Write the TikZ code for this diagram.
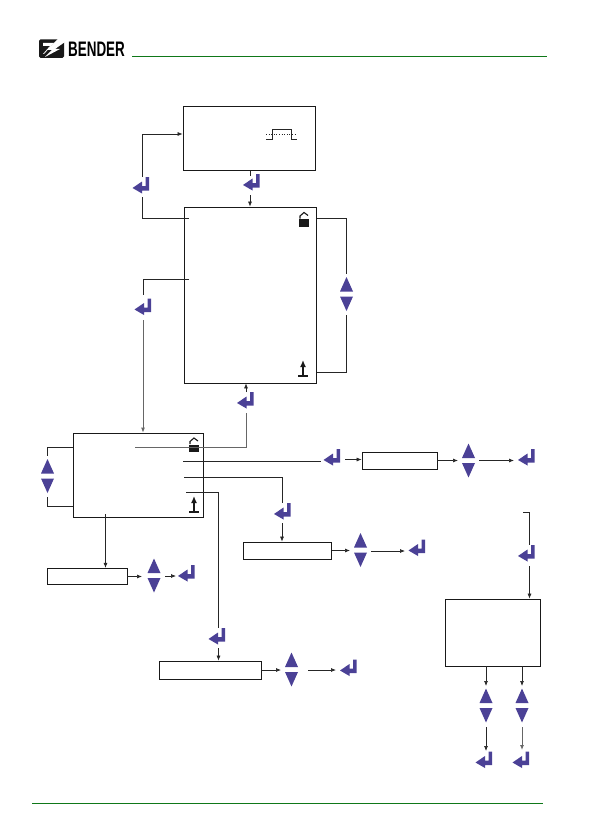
\documentclass[tikz,border=0pt]{standalone}
\usepackage{fontspec}
\setmainfont{Liberation Sans}
\usetikzlibrary{calc,arrows.meta}
\definecolor{keyblue}{RGB}{75,65,150}
\definecolor{rulegreen}{RGB}{15,120,25}
\tikzset{
  panel/.style={draw=black!90, line width=0.75pt, fill=white, inner sep=0pt},
  link/.style={draw=black!85, line width=0.7pt},
  greylink/.style={draw=black!60, line width=0.9pt},
  tip/.style={-{Latex[length=5pt,width=4pt]}},
  enterkey/.pic={
    \fill[keyblue] (-8.5,2.5) -- (1,-4) -- (1,0.5) -- (4.5,0.5) -- (4.5,-8.5) -- (8,-8.5) -- (8,5) -- (1,5) -- (1,8) -- cycle;
  },
  updownkey/.pic={
    \fill[keyblue] (-6.5,2.5) -- (6.5,2.5) -- (0,17) -- cycle;
    \fill[keyblue] (-6.5,-2.5) -- (6.5,-2.5) -- (0,-17) -- cycle;
  },
  lockicon/.pic={
    \fill[black!90] (-5,-0.5) rectangle (5,7);
    \draw[black!90, line width=1.1pt] (-4,-1) -- (-4,-3.5) -- (0,-7) -- (4,-4);
  },
  uparrowicon/.pic={
    \draw[black!90, line width=1.3pt] (-5,8) -- (5,8);
    \draw[black!90, line width=1.3pt, -{Latex[length=7pt,width=6pt]}] (0,8) -- (0,-8);
  },
}
\begin{document}
\begin{tikzpicture}[x=1pt, y=-1pt, line join=miter]
  \useasboundingbox (0,0) rectangle (594,840);
  % kopf und fuss
  \fill[black!90, rounded corners=1.5pt] (39,39.5) rectangle (64,58);
  \fill[white] (43,43) -- (54,43) -- (44,54) -- (43,54) -- (50,46) -- (43,46) -- cycle;
  \fill[white] (65,39) -- (58,39) -- (47,50) -- (52,50) -- (45,57) -- (60,49) -- (55,49) -- (65,42) -- cycle;
  \node[inner sep=0pt, anchor=west, xscale=0.64] (brand) at (68,49.5) {\fontsize{21}{21}\selectfont\bfseries BENDER};
  \coordinate (headL) at (132,56); \coordinate (headR) at (547,56);
  \coordinate (footL) at (32,803); \coordinate (footR) at (543,803);
  \draw[rulegreen, line width=0.9pt] (headL) -- (headR);
  \draw[rulegreen, line width=0.9pt] (footL) -- (footR);
  % anzeigen
  \node[panel, minimum width=132pt, minimum height=64.5pt] (info) at (249,138.5) {};
  \node[panel, minimum width=131.5pt, minimum height=176pt] (menu) at (250.5,295) {};
  \node[panel, minimum width=130.5pt, minimum height=84pt] (submenu) at (138.5,475) {};
  \node[panel, minimum width=80pt, minimum height=16.5pt] (fieldA) at (87,576.5) {};
  \node[panel, minimum width=88pt, minimum height=17pt] (fieldB) at (287.5,550.5) {};
  \node[panel, minimum width=75pt, minimum height=17pt] (fieldC) at (399.5,460.5) {};
  \node[panel, minimum width=102pt, minimum height=18pt] (fieldD) at (210,670) {};
  \node[panel, minimum width=95.5pt, minimum height=67pt] (result) at (492.75,632.5) {};
  % tasten
  \coordinate (kInfo) at (141,185.5);
  \coordinate (kMenu) at (251.5,182.5);
  \coordinate (kSub) at (143,307);
  \coordinate (kBack) at (245.5,400.5);
  \coordinate (kF) at (332,457.5);
  \coordinate (kFa) at (526.5,457.5);
  \coordinate (kE) at (282.5,511.5);
  \coordinate (kEa) at (417,548);
  \coordinate (kA) at (186.5,573.5);
  \coordinate (kG) at (217,636.5);
  \coordinate (kGa) at (348.5,668);
  \coordinate (kTop) at (526.5,553.5);
  \coordinate (kL) at (484,760);
  \coordinate (kR) at (521,760);
  \foreach \k in {kInfo,kMenu,kSub,kBack,kF,kFa,kE,kEa,kA,kG,kGa,kTop,kL,kR}
    \pic at (\k) {enterkey};
  \coordinate (uMenu) at (346.5,294);
  \coordinate (uSub) at (47.5,476);
  \coordinate (uA) at (154,575.5);
  \coordinate (uF) at (468.5,460.5);
  \coordinate (uE) at (360.5,550);
  \coordinate (uD) at (291.5,669.5);
  \coordinate (uL) at (486,705.5);
  \coordinate (uR) at (522,705.5);
  \foreach \u in {uMenu,uSub,uA,uF,uE,uD,uL,uR}
    \pic at (\u) {updownkey};
  % symbole
  \pic at (304,219.5) {lockicon};
  \pic at (194,445) {lockicon};
  \pic at (303,368) {uparrowicon};
  \pic at (194,504) {uparrowicon};
  \draw[black!85, line width=0.6pt] (266,139) -- (272,139) -- (272,129) -- (291,129) -- (291,139) -- (297,139);
  \draw[black!85, line width=0.6pt, dotted] (266,134) -- (297,134);
  % verbindungen oben
  \draw[link, tip] (142,177) |- (info.west |- 0,134);
  \draw[link] (142,197) |- (189,218);
  \draw[link] (info.south -| 250,0) -- (250,176);
  \draw[link, tip] (250,195) -- (menu.north -| 250,0);
  \draw[link] (menu.east |- 0,218) -| (uMenu |- 0,274);
  \draw[link] (menu.east |- 0,372) -| (uMenu |- 0,315);
  \draw[link] (189,279) -| (143,295);
  \draw[greylink, tip] (143,320) -- (submenu.north -| 143,0);
  \draw[link, tip] (246,392) -- (menu.south -| 246,0);
  \draw[greylink] (246,413) |- (135,447);
  % untermenue
  \draw[link] (submenu.west |- 0,447) -| (uSub |- 0,456);
  \draw[link] (submenu.west |- 0,506) -| (uSub |- 0,497);
  \draw[link, tip] (105.5,514) -- (fieldA.north -| 105.5,0);
  \draw[link, tip] (fieldA.east) -- (142,576.5);
  \draw[link, tip] (165,576) -- (176,576);
  \draw[link] (183,461) -- (321,461);
  \draw[link, tip] (345,459.5) -- (fieldC.west |- 0,459.5);
  \draw[link, tip] (fieldC.east) -- (458,460.5);
  \draw[link, tip] (479,460.5) -- (514,460.5);
  \draw[link] (184,477) -| (282,503);
  \draw[link, tip] (282,523) -- (fieldB.north -| 282,0);
  \draw[link, tip] (fieldB.east) -- (350,550.5);
  \draw[link, tip] (371,551) -- (405,551);
  \draw[link] (186,492) -| (218.5,628);
  \draw[link, tip] (218.5,648) -- (fieldD.north -| 218.5,0);
  \draw[link, tip] (fieldD.east) -- (281,670);
  \draw[link, tip] (308,670) -- (336,670);
  % rechts unten
  \draw[link] (523,512.5) -| (529.5,545);
  \draw[link, tip] (529.5,566) -- (result.north -| 529.5,0);
  \draw[link, tip] (result.south -| 486,0) -- (486,686);
  \draw[link, tip] (result.south -| 522,0) -- (522,686);
  \draw[link, tip] (486,727) -- (486,751);
  \draw[greylink, tip] (522,727) -- (522,750);
\end{tikzpicture}
\end{document}
